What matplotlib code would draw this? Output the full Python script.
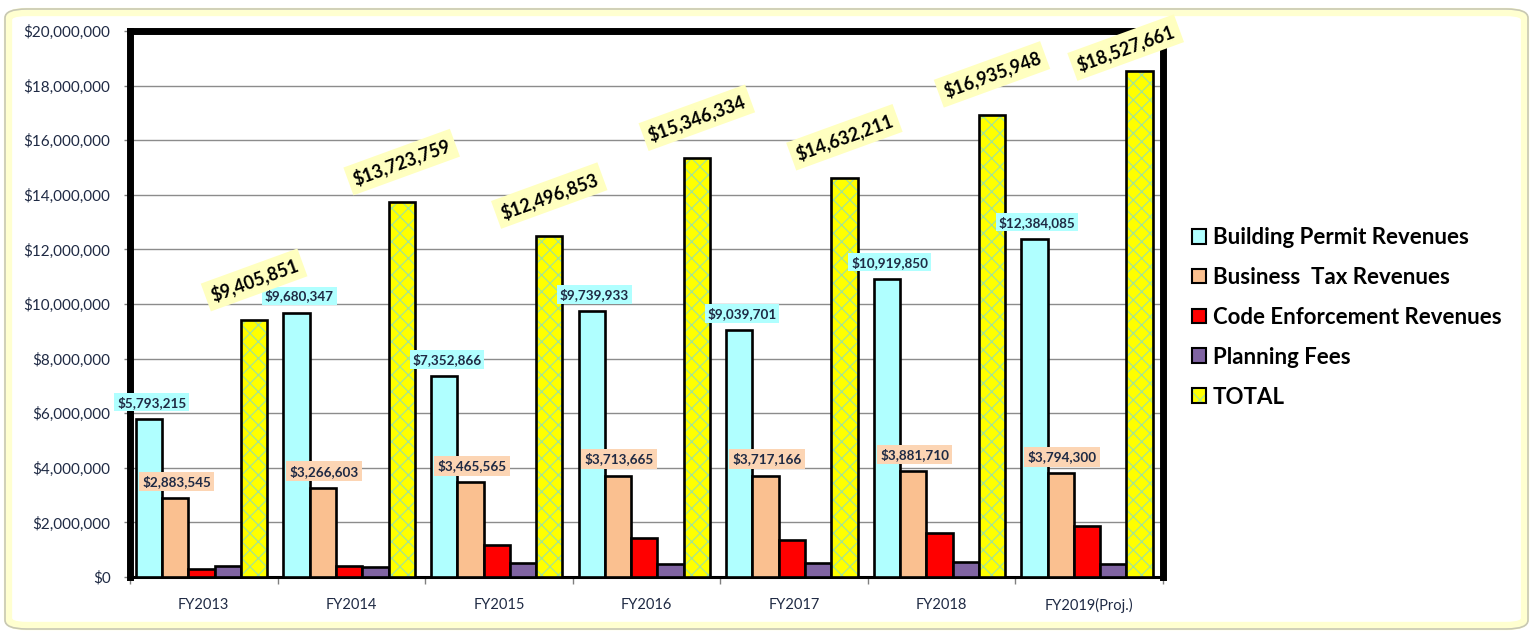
import matplotlib.pyplot as plt
from matplotlib.patches import Patch, FancyBboxPatch
from matplotlib.legend_handler import HandlerTuple
from matplotlib.ticker import FuncFormatter, FixedLocator

plt.rcParams['font.family'] = ['Lato', 'DejaVu Sans']
plt.rcParams['hatch.linewidth'] = 0.8

# Datos
years = ["FY2013", "FY2014", "FY2015", "FY2016", "FY2017", "FY2018", "FY2019(Proj.)"]
building = [5793215, 9680347, 7352866, 9739933, 9039701, 10919850, 12384085]
business = [2883545, 3266603, 3465565, 3713665, 3717166, 3881710, 3794300]
code_enf = [310000, 415000, 1170000, 1430000, 1370000, 1600000, 1880000]
planning = [420000, 362000, 508000, 462000, 505000, 534000, 470000]
total = [9405851, 13723759, 12496853, 15346334, 14632211, 16935948, 18527661]

series_names = ["Building Permit Revenues", "Business  Tax Revenues",
                "Code Enforcement Revenues", "Planning Fees", "TOTAL"]
colors = ["#B0FFFF", "#FAC090", "#FF0000", "#8064A2", "#FFFF00"]
hatch_green = "#9EE39E"

W, H = 1537, 635
fig = plt.figure(figsize=(W / 100, H / 100), dpi=100)
fig.patch.set_facecolor("white")

# marco exterior tipo Excel
frame = FancyBboxPatch((8 / W, 9 / H), 1517 / W, 614 / H,
                       boxstyle="round,pad=0,rounding_size=0.012",
                       transform=fig.transFigure, facecolor="white",
                       edgecolor="#FFFFD0", linewidth=6, zorder=-2)
fig.patches.append(frame)
frame2 = FancyBboxPatch((5 / W, 6 / H), 1523 / W, 620 / H,
                        boxstyle="round,pad=0,rounding_size=0.014",
                        transform=fig.transFigure, facecolor="none",
                        edgecolor="#C8C8B4", linewidth=1.2, zorder=-1)
fig.patches.append(frame2)

ax = fig.add_axes([130 / W, 1 - 577 / H, 1033 / W, 546 / H])
ax.set_facecolor("white")

n = len(years)
x = list(range(n))
bw = 0.178
offsets = [-0.371 + k * bw for k in range(5)]
data = [building, business, code_enf, planning]

for k, vals in enumerate(data):
    ax.bar([i + offsets[k] for i in x], vals, width=bw, color=colors[k],
           edgecolor="black", linewidth=1.9, zorder=3)

xt = [i + offsets[4] for i in x]
ax.bar(xt, total, width=bw, color=colors[4], edgecolor=hatch_green,
       hatch="xx", linewidth=0, zorder=3)
ax.bar(xt, total, width=bw, fill=False, edgecolor="black", linewidth=1.9, zorder=4)

# etiquetas
lab_col = "#1F2A44"
for i in x:
    ax.annotate(f"${building[i]:,}", (i + offsets[0], building[i]),
                xytext=(2, 12), textcoords="offset points", ha="center", va="center",
                fontsize=9.7, fontweight="bold", color=lab_col, zorder=6,
                bbox=dict(boxstyle="square,pad=0.2", facecolor="#B0FFFF", edgecolor="none"))
    ax.annotate(f"${business[i]:,}", (i + offsets[1], business[i]),
                xytext=(1, 12), textcoords="offset points", ha="center", va="center",
                fontsize=9.7, fontweight="bold", color=lab_col, zorder=6,
                bbox=dict(boxstyle="square,pad=0.25", facecolor="#FCD5B4", edgecolor="none"))
    dy = 29 if i < n - 1 else 17
    dx = 0 if i < n - 1 else -10
    ax.annotate(f"${total[i]:,}", (xt[i], total[i]),
                xytext=(dx, dy), textcoords="offset points", ha="center", va="center",
                fontsize=13, fontweight="bold", color="black", rotation=20, zorder=7,
                annotation_clip=False,
                bbox=dict(boxstyle="square,pad=0.3", facecolor="#FFFFC0", edgecolor="none"))

# ejes
ax.set_xlim(-0.5, n - 0.5)
ax.set_ylim(0, 20000000)
ax.yaxis.set_major_locator(FixedLocator(range(0, 20000001, 2000000)))
ax.yaxis.set_major_formatter(FuncFormatter(lambda v, p: f"${int(v):,}"))
ax.grid(axis="y", color="#8C8C8C", linewidth=1.0, zorder=0)
ax.set_axisbelow(True)
ax.tick_params(axis="y", labelsize=11, labelcolor=lab_col, color="#808080",
               length=4, width=1, pad=10)

ax.set_xticks(x)
ax.set_xticklabels(years)
ax.set_xticks([i - 0.5 for i in range(n + 1)], minor=True)
ax.tick_params(axis="x", which="major", length=0, labelsize=10.5, labelcolor=lab_col, pad=15)
ax.tick_params(axis="x", which="minor", length=5, color="#808080", width=1)

for s in ["left", "top", "right"]:
    ax.spines[s].set_linewidth(5)
    ax.spines[s].set_color("black")
ax.spines["bottom"].set_linewidth(2.2)
ax.spines["bottom"].set_color("black")

# leyenda
handles = []
for k in range(4):
    handles.append(Patch(facecolor=colors[k], edgecolor="black", linewidth=1.5))
handles.append((Patch(facecolor=colors[4], edgecolor=hatch_green, hatch="xx", linewidth=0),
                Patch(fill=False, edgecolor="black", linewidth=1.5)))
fig.legend(handles, series_names, loc="upper left", bbox_to_anchor=(1172 / W, 1 - 207 / H),
           frameon=False, handlelength=0.65, handleheight=0.65, handletextpad=0.3,
           labelspacing=0.85, prop=dict(size=16, weight="bold"),
           handler_map={tuple: HandlerTuple(ndivide=1, pad=0)})

fig.savefig("out.png", dpi=100)
